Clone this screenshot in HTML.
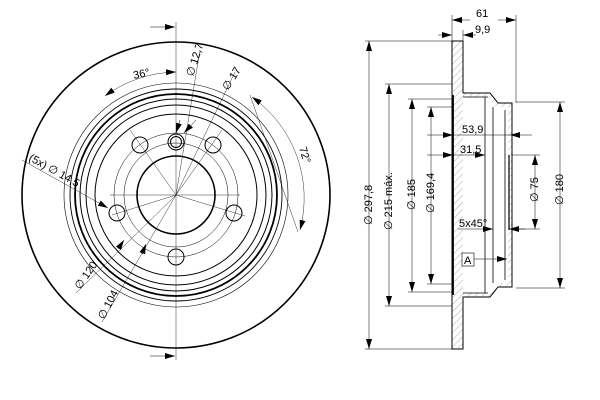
<!DOCTYPE html>
<html><head><style>body{margin:0;background:#fff}svg{display:block}text{font-family:"Liberation Sans",sans-serif;font-size:11px;fill:#000}</style></head>
<body>
<svg width="600" height="400" viewBox="0 0 600 400" xmlns="http://www.w3.org/2000/svg">
<defs>
<marker id="a" viewBox="0 0 10 6" refX="10" refY="3" markerWidth="10" markerHeight="6" orient="auto-start-reverse" markerUnits="userSpaceOnUse"><path d="M0,0L10,3L0,6z" fill="#000"/></marker>
<pattern id="h" width="5" height="5" patternUnits="userSpaceOnUse" patternTransform="rotate(45)"><line x1="0" y1="0" x2="0" y2="5" stroke="#777" stroke-width="0.6"/></pattern>
</defs>
<g fill="none" stroke="#000">
<!-- front view -->
<ellipse cx="176" cy="195" rx="154" ry="153" stroke-width="1.6"/>
<circle cx="176" cy="195" r="112" stroke-width="0.6"/>
<circle cx="176" cy="195" r="106" stroke-width="0.9"/>
<circle cx="176" cy="195" r="101" stroke-width="1.8"/>
<circle cx="176" cy="195" r="96" stroke-width="1"/>
<circle cx="176" cy="195" r="90" stroke-width="1"/>
<circle cx="176" cy="195" r="81" stroke-width="1"/>
<circle cx="176" cy="195" r="62" stroke-width="0.5"/>
<circle cx="176" cy="195" r="52" stroke-width="0.5"/>
<circle cx="176" cy="195" r="39" stroke-width="1.6"/>
<g stroke-width="1">
<circle cx="176" cy="142" r="8"/><circle cx="176" cy="142" r="5.5"/>
<circle cx="140" cy="145" r="8"/><circle cx="213" cy="145" r="8"/>
<circle cx="117" cy="213" r="8"/><circle cx="234" cy="213" r="8"/>
<circle cx="176" cy="257" r="8"/>
</g>
<g stroke-width="0.4">
<line x1="176" y1="22" x2="176" y2="360"/>
<line x1="110" y1="195" x2="240" y2="195"/>
<line x1="176" y1="195" x2="130" y2="130"/>
<line x1="176" y1="195" x2="222" y2="130"/>
<line x1="176" y1="195" x2="112" y2="215"/>
<line x1="176" y1="195" x2="245" y2="216"/>
<line x1="176" y1="195" x2="200" y2="50"/>
<line x1="176" y1="195" x2="235" y2="72"/>
<line x1="176" y1="195" x2="102" y2="322"/>
<line x1="176" y1="195" x2="76" y2="293"/>
<line x1="22" y1="160" x2="108" y2="208" marker-end="url(#a)"/>
<line x1="250" y1="95" x2="298" y2="232"/>
<path d="M105,96 A124,124 0 0 1 176,72" marker-start="url(#a)" marker-end="url(#a)"/>
<path d="M252,97 A124,124 0 0 1 300,230" marker-start="url(#a)" marker-end="url(#a)"/>
</g>
<line x1="150" y1="27" x2="175" y2="27" stroke-width="0.6" marker-end="url(#a)"/>
<line x1="150" y1="356" x2="175" y2="356" stroke-width="0.6" marker-end="url(#a)"/>
<line x1="180" y1="120" x2="176" y2="133" stroke-width="0.5" marker-end="url(#a)"/>
<line x1="196" y1="120" x2="184" y2="133" stroke-width="0.5" marker-end="url(#a)"/>
<line x1="118" y1="249" x2="124" y2="240" stroke-width="0.5" marker-end="url(#a)"/>
<line x1="142" y1="254" x2="146" y2="244" stroke-width="0.5" marker-end="url(#a)"/>

<!-- side view -->
<path d="M452,41H463V93H490L498,103H512V287H498L490,297H463V349H452Z" fill="url(#h)" stroke-width="1"/>
<path d="M463,97H488L496,107H508V283H496L488,293H463Z" fill="#fff" stroke="none"/>
<line x1="453" y1="95" x2="453" y2="295" stroke-width="1.8"/>
<line x1="463" y1="97" x2="488" y2="97" stroke-width="0.8"/>
<line x1="463" y1="293" x2="488" y2="293" stroke-width="0.8"/>
<line x1="485" y1="97" x2="485" y2="293" stroke-width="0.8"/>
<line x1="493" y1="107" x2="493" y2="283" stroke-width="0.8"/>
<line x1="505" y1="110" x2="505" y2="280" stroke-width="0.8"/>
<line x1="509" y1="155" x2="509" y2="230" stroke-width="1.2"/>
<g stroke-width="0.5">
<line x1="452" y1="15" x2="452" y2="41"/><line x1="516" y1="15" x2="516" y2="103"/>
<line x1="452" y1="20" x2="470" y2="20" marker-start="url(#a)"/><line x1="498" y1="20" x2="516" y2="20" marker-end="url(#a)"/>
<line x1="438" y1="35" x2="452" y2="35" marker-end="url(#a)"/><line x1="463" y1="35" x2="476" y2="35" marker-start="url(#a)"/>
<line x1="463" y1="30" x2="463" y2="41"/>
<line x1="365" y1="41" x2="452" y2="41"/><line x1="365" y1="349" x2="452" y2="349"/>
<line x1="369" y1="41" x2="369" y2="349" marker-start="url(#a)" marker-end="url(#a)"/>
<line x1="385" y1="84" x2="452" y2="84"/><line x1="385" y1="306" x2="452" y2="306"/>
<line x1="389" y1="84" x2="389" y2="306" marker-start="url(#a)" marker-end="url(#a)"/>
<line x1="408" y1="99" x2="452" y2="99"/><line x1="408" y1="292" x2="452" y2="292"/>
<line x1="412" y1="99" x2="412" y2="292" marker-start="url(#a)" marker-end="url(#a)"/>
<line x1="427" y1="107" x2="452" y2="107"/><line x1="427" y1="284" x2="452" y2="284"/>
<line x1="431" y1="107" x2="431" y2="284" marker-start="url(#a)" marker-end="url(#a)"/>
<line x1="427" y1="135" x2="453" y2="135" marker-end="url(#a)"/><line x1="453" y1="135" x2="510" y2="135"/><line x1="510" y1="135" x2="532" y2="135" marker-start="url(#a)"/>
<line x1="427" y1="155" x2="453" y2="155" marker-end="url(#a)"/><line x1="453" y1="155" x2="485" y2="155" marker-end="url(#a)"/>
<line x1="512" y1="155" x2="540" y2="155"/><line x1="512" y1="229" x2="540" y2="229"/>
<line x1="535" y1="155" x2="535" y2="229" marker-start="url(#a)" marker-end="url(#a)"/>
<line x1="516" y1="102" x2="565" y2="102"/><line x1="516" y1="288" x2="565" y2="288"/>
<line x1="560" y1="102" x2="560" y2="288" marker-start="url(#a)" marker-end="url(#a)"/>
<line x1="458" y1="229" x2="493" y2="229" marker-end="url(#a)"/><line x1="509" y1="229" x2="525" y2="229" marker-start="url(#a)"/>
<line x1="474" y1="259" x2="507" y2="259" marker-end="url(#a)"/>
</g>
<rect x="462" y="253" width="12" height="13" fill="#fff" stroke-width="0.6"/>
</g>
<g>
<text x="134" y="79" transform="rotate(-12 134 79)">36°</text>
<text x="193" y="77" transform="rotate(-72 193 77)">∅ 12,7</text>
<text x="228" y="91" transform="rotate(-58 228 91)">∅ 17</text>
<text x="299" y="148" transform="rotate(73 299 148)">72°</text>
<text x="28" y="160" font-size="10" transform="rotate(29 28 160)">(5x) ∅ 14,5</text>
<text x="80" y="290" font-size="10" transform="rotate(-55 80 290)">∅ 120</text>
<text x="104" y="320" font-size="10" transform="rotate(-62 104 320)">∅ 104</text>
<text x="476" y="17">61</text>
<text x="475" y="33">9,9</text>
<text x="372" y="225" font-size="10" transform="rotate(-90 372 225)">∅ 297,8</text>
<text x="392" y="230" font-size="10" transform="rotate(-90 392 230)">∅ 215 máx.</text>
<text x="415" y="210" font-size="10" transform="rotate(-90 415 210)">∅ 185</text>
<text x="434" y="213" font-size="10" transform="rotate(-90 434 213)">∅ 169,4</text>
<text x="462" y="133" font-size="10">53,9</text>
<text x="460" y="153" font-size="10">31,5</text>
<text x="459" y="227" font-size="10">5x45°</text>
<text x="538" y="202" font-size="10" transform="rotate(-90 538 202)">∅ 75</text>
<text x="563" y="205" font-size="10" transform="rotate(-90 563 205)">∅ 180</text>
<text x="464" y="264" font-size="10">A</text>
</g>
</svg>
</body></html>
